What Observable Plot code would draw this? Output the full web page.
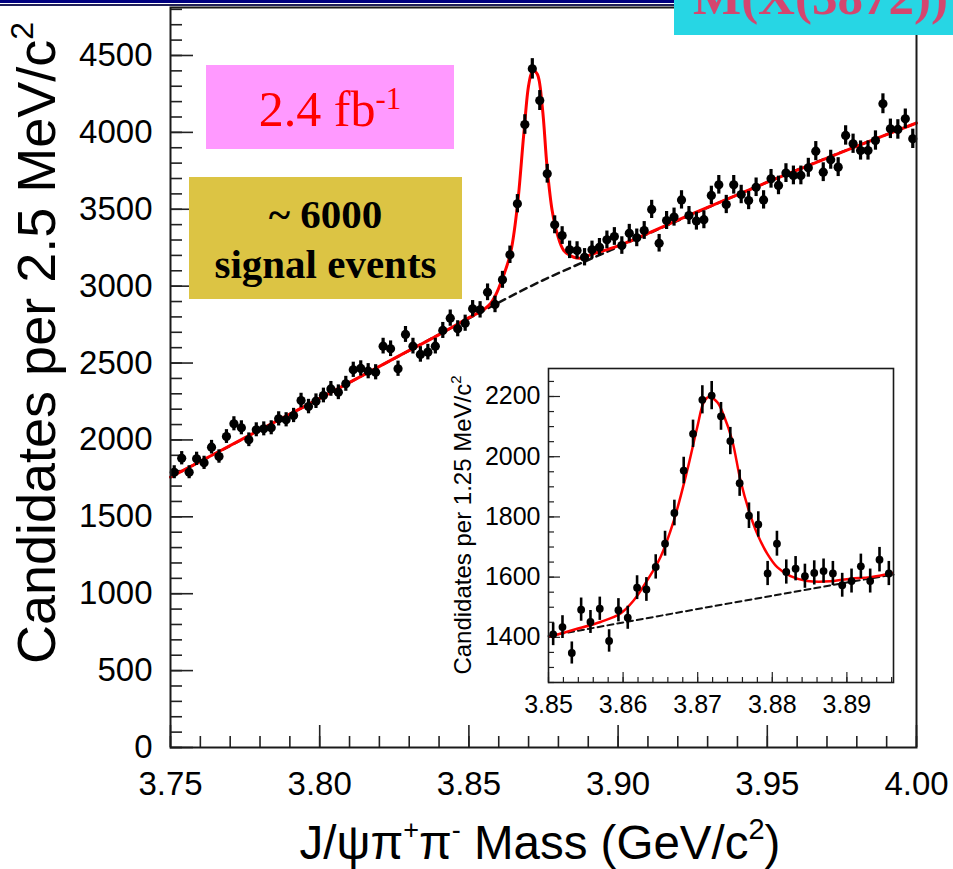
<!DOCTYPE html>
<html><head><meta charset="utf-8">
<script src="https://cdn.jsdelivr.net/npm/d3@7"></script>
<script src="https://cdn.jsdelivr.net/npm/@observablehq/plot@0.6"></script>
<style>
body{margin:0;background:#fff;}
#wrap{position:relative;width:953px;height:869px;overflow:hidden;background:#fff;font-family:"Liberation Sans",Arial,sans-serif;}
.abs{position:absolute;}
</style></head><body><div id="wrap"></div>
<script>
// ---- main histogram: J/psi pi+ pi- mass, 2.5 MeV bins from 3.75 to 4.00 GeV ----
const mainCounts = [
 1790,1881,1790,1877,1851,1953,1892,2022,2105,2079,
 2001,2066,2072,2079,2137,2131,2159,2256,2217,2252,
 2289,2332,2310,2365,2456,2465,2447,2440,2610,2593,
 2463,2686,2610,2556,2571,2610,2712,2792,2723,2759,
 2853,2846,2960,2881,3041,3204,3536,4051,4413,4207,
 3731,3399,3329,3236,3232,3188,3236,3253,3301,3323,
 3264,3344,3314,3362,3499,3279,3427,3449,3561,3459,
 3423,3432,3590,3659,3531,3659,3596,3557,3643,3561,
 3698,3655,3735,3720,3720,3770,3878,3741,3822,3774,
 3980,3926,3882,3882,3947,4186,4023,4019,4088,3958];
const mainFitMass = [3.75,3.775,3.80,3.825,3.84,3.85,3.855,3.8572,3.8589,3.8612,3.8639,3.8662,3.8684,3.8701,3.8714,3.8729,3.8746,3.8762,3.8779,3.8796,3.8818,3.8852,3.8874,3.8919,3.90,3.925,3.95,3.975,4.00];
const mainFitVal  = [1758,2015,2270,2530,2685,2795,2848,2885,2939,3048,3210,3513,3990,4315,4402,4380,4164,3774,3492,3340,3232,3188,3182,3212,3262,3472,3676,3872,4061];
const mainBgMass = [3.75,3.80,3.85,3.875,3.90,3.95,4.00];
const mainBgVal  = [1758,2270,2790,3040,3255,3676,4061];
const mainXTicks = [3.75,3.80,3.85,3.90,3.95,4.00];
const mainYTicks = [0,500,1000,1500,2000,2500,3000,3500,4000,4500];

// ---- inset histogram: 1.25 MeV bins from 3.85 GeV ----
const insetCounts = [
 1410,1434,1348,1492,1451,1495,1388,1490,1465,1565,
 1559,1634,1711,1813,1954,2076,2189,2203,2134,2052,
 1912,1804,1775,1612,1711,1617,1628,1603,1614,1620,
 1612,1573,1587,1636,1587,1658,1612];
const insetFitMass = [3.85027,3.85339,3.85697,3.85965,3.86144,3.86323,3.86502,3.86680,3.86859,3.86994,3.87082,3.87149,3.87262,3.87350,3.87463,3.87574,3.87685,3.87798,3.87932,3.88066,3.88244,3.88468,3.88781,3.89049,3.89317,3.89608];
const insetFitVal  = [1403,1425,1451,1479,1523,1589,1667,1788,1954,2098,2181,2198,2181,2137,2054,1921,1822,1744,1678,1633,1603,1587,1586,1595,1600,1614];
const insetBgMass = [3.85,3.87,3.89,3.89625];
const insetBgVal  = [1404,1494,1582,1608];
const insetXTicks = [3.85,3.86,3.87,3.88,3.89];
const insetYTicks = [1400,1600,1800,2000,2200];

const FONT = "Liberation Sans, Arial, Helvetica, sans-serif";
const wrap = document.getElementById("wrap");

// ---------- main chart ----------
const mainData = mainCounts.map((n, i) => ({m: 3.75125 + 0.0025 * i, n, lo: n - Math.sqrt(n), hi: n + Math.sqrt(n)}));
const mainFit = mainFitMass.map((m, i) => ({m, v: mainFitVal[i]}));
const mainBg = mainBgMass.map((m, i) => ({m, v: mainBgVal[i]}));
const W = 953, H = 869, mL = 170, mR = 37, mT = 7, mB = 122;
const innerW = W - mL - mR, innerH = H - mT - mB;
const xMinor = d3.range(0, 26).map(i => 3.75 + i * 0.01);
const yMinor = d3.range(0, 49).map(i => i * 100);

const mainSvg = Plot.plot({
  width: W, height: H,
  marginLeft: mL, marginRight: mR, marginTop: mT, marginBottom: mB,
  x: {domain: [3.75, 4.00]},
  y: {domain: [0, 4812]},
  style: {background: "transparent", fontFamily: FONT, color: "#000", overflow: "visible"},
  marks: [
    Plot.ruleX(xMinor, {x: d => d, insetTop: innerH - 11, stroke: "#222", strokeWidth: 1.6}),
    Plot.ruleX(mainXTicks, {x: d => d, insetTop: innerH - 22, stroke: "#222", strokeWidth: 1.6}),
    Plot.ruleY(yMinor, {y: d => d, insetRight: innerW - 12, stroke: "#222", strokeWidth: 1.6}),
    Plot.ruleY(mainYTicks, {y: d => d, insetRight: innerW - 23, stroke: "#222", strokeWidth: 1.6}),
    Plot.axisX(mainXTicks, {tickSize: 0, tickPadding: 24, fontSize: 33, tickFormat: d => d.toFixed(2), label: null}),
    Plot.axisY(mainYTicks, {tickSize: 0, tickPadding: 18, fontSize: 33, tickFormat: d => String(d), label: null}),
    Plot.line(mainBg, {x: "m", y: "v", curve: "natural", stroke: "#111", strokeWidth: 2.5, strokeDasharray: "7,5"}),
    Plot.line(mainFit, {x: "m", y: "v", curve: "catmull-rom", stroke: "#ff0000", strokeWidth: 3}),
    Plot.ruleX(mainData, {x: "m", y1: "lo", y2: "hi", stroke: "#000", strokeWidth: 3.2}),
    Plot.dot(mainData, {x: "m", y: "n", r: 4.6, fill: "#000", stroke: "none"}),
    Plot.frame({stroke: "#1a1a1a", strokeWidth: 2})
  ]
});
mainSvg.style.position = "absolute"; mainSvg.style.left = "0px"; mainSvg.style.top = "0px";
wrap.appendChild(mainSvg);
{
  const s = d3.select(mainSvg);
  const yt = s.append("text").attr("transform", "translate(55,343) rotate(-90)")
    .attr("text-anchor", "middle").attr("font-size", 54).attr("font-family", FONT).attr("fill", "#000")
    .style("white-space", "pre");
  yt.append("tspan").text("Candidates per 2.5 MeV/c");
  yt.append("tspan").attr("font-size", 32).attr("dy", -22).text("2");
  const xt = s.append("text").attr("x", 540).attr("y", 859)
    .attr("text-anchor", "middle").attr("font-size", 47.5).attr("font-family", FONT).attr("fill", "#000")
    .style("white-space", "pre");
  xt.append("tspan").text("J/ψπ");
  xt.append("tspan").attr("font-size", 27).attr("dy", -20).text("+");
  xt.append("tspan").attr("dy", 20).text("π");
  xt.append("tspan").attr("font-size", 27).attr("dy", -20).text("-");
  xt.append("tspan").attr("dy", 20).text(" Mass (GeV/c");
  xt.append("tspan").attr("font-size", 29).attr("dy", -20).text("2");
  xt.append("tspan").attr("dy", 20).text(")");
}

// ---------- inset chart ----------
const insetData = insetCounts.map((n, i) => ({m: 3.850625 + 0.00125 * i, n, lo: n - Math.sqrt(n), hi: n + Math.sqrt(n)}));
const insetFit = insetFitMass.map((m, i) => ({m, v: insetFitVal[i]}));
const insetBg = insetBgMass.map((m, i) => ({m, v: insetBgVal[i]}));
const iW = 470, iH = 380, iL = 108, iR = 17, iT = 18, iB = 48;
const iInW = iW - iL - iR, iInH = iH - iT - iB;
const ixMinor = d3.range(0, 24).map(i => 3.85 + i * 0.002);
const iyMinor = d3.range(0, 21).map(i => 1250 + i * 50);

const insetSvg = Plot.plot({
  width: iW, height: iH,
  marginLeft: iL, marginRight: iR, marginTop: iT, marginBottom: iB,
  x: {domain: [3.85, 3.89625]},
  y: {domain: [1250, 2293]},
  style: {background: "transparent", fontFamily: FONT, color: "#000", overflow: "visible"},
  marks: [
    Plot.ruleX(ixMinor, {x: d => d, insetTop: iInH - 5, stroke: "#222", strokeWidth: 1.2}),
    Plot.ruleX(insetXTicks, {x: d => d, insetTop: iInH - 10, stroke: "#222", strokeWidth: 1.2}),
    Plot.ruleY(iyMinor, {y: d => d, insetRight: iInW - 6, stroke: "#222", strokeWidth: 1.2}),
    Plot.ruleY(insetYTicks, {y: d => d, insetRight: iInW - 12, stroke: "#222", strokeWidth: 1.2}),
    Plot.axisX(insetXTicks, {tickSize: 0, tickPadding: 13, fontSize: 25, tickFormat: d => d.toFixed(2), label: null}),
    Plot.axisY(insetYTicks, {tickSize: 0, tickPadding: 8, fontSize: 25, tickFormat: d => String(d), label: null}),
    Plot.line(insetBg, {x: "m", y: "v", curve: "natural", stroke: "#111", strokeWidth: 2, strokeDasharray: "6,4"}),
    Plot.line(insetFit, {x: "m", y: "v", curve: "catmull-rom", stroke: "#ff0000", strokeWidth: 2.5}),
    Plot.ruleX(insetData, {x: "m", y1: "lo", y2: "hi", stroke: "#000", strokeWidth: 2.6}),
    Plot.dot(insetData, {x: "m", y: "n", r: 3.9, fill: "#000", stroke: "none"}),
    Plot.frame({stroke: "#1a1a1a", strokeWidth: 1.6})
  ]
});
insetSvg.style.position = "absolute"; insetSvg.style.left = "440px"; insetSvg.style.top = "350px";
wrap.appendChild(insetSvg);
{
  const s = d3.select(insetSvg);
  const yt = s.append("text").attr("transform", "translate(31,175) rotate(-90)")
    .attr("text-anchor", "middle").attr("font-size", 24).attr("font-family", FONT).attr("fill", "#000")
    .style("white-space", "pre");
  yt.append("tspan").text("Candidates per 1.25 MeV/c");
  yt.append("tspan").attr("font-size", 15).attr("dy", -10).text("2");
}

// ---------- slide annotations ----------
function box(html, css) {
  const d = document.createElement("div");
  d.className = "abs";
  d.style.cssText = css;
  d.innerHTML = html;
  wrap.appendChild(d);
  return d;
}
box("", "left:0;top:0;width:674px;height:3px;background:#000080;");
box("", "left:0;top:4px;width:674px;height:2px;background:#20205a;");
box('<span style="position:absolute;left:19px;top:-28px;font:bold 51px \'Liberation Serif\',serif;line-height:1;color:#d4466f;white-space:nowrap;">M(X(3872))</span>',
    "left:674px;top:0;width:279px;height:35px;background:#27d6e4;overflow:hidden;");
box('<div style="font:50px \'Liberation Serif\',serif;line-height:1;color:#ff0000;white-space:nowrap;text-align:center;padding-top:19px;">2.4 fb<span style="font-size:31px;position:relative;top:-17px;">-1</span></div>',
    "left:206px;top:65px;width:248px;height:84px;background:#ff99ff;");
box('<div style="font:bold 41px \'Liberation Serif\',serif;line-height:50px;color:#000;text-align:center;padding-top:12px;white-space:nowrap;">~ 6000<br>signal events</div>',
    "left:189px;top:177px;width:273px;height:122px;background:#dcc444;");
</script>
</body></html>
